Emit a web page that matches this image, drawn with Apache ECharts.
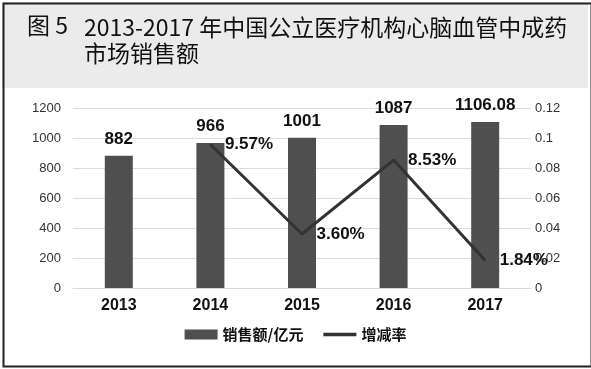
<!DOCTYPE html>
<html>
<head>
<meta charset="utf-8">
<script src="https://cdn.jsdelivr.net/npm/echarts@6/dist/echarts.min.js"></script>
<style>
  html, body { margin: 0; padding: 0; background: #fff; }
  #chart { width: 591px; height: 369px; }
</style>
</head>
<body>
<div id="chart"></div>
<script>
// 数据
const years = ['2013', '2014', '2015', '2016', '2017']
const sales = [882, 966, 1001, 1087, 1106.08]
const rates = [null, 0.0957, 0.036, 0.0853, 0.0184]
const leftTicks = [0, 1200, 200]
const rightTicks = [0, 0.12, 0.02]

const cjk = '"Noto Sans CJK SC", "Noto Sans", sans-serif'
const num = 'Arial, "Liberation Sans", sans-serif'

const chart = echarts.init(document.getElementById('chart'))

chart.setOption({
  backgroundColor: '#fff',
  animation: false,
  graphic: [
    // 标题灰色底
    { type: 'rect', left: 2, top: 2, shape: { width: 586, height: 86 }, style: { fill: '#ebebeb' }, z: -10 },
    // 外框
    { type: 'rect', left: 1, top: 1, shape: { width: 588, height: 363 }, style: { fill: 'none', stroke: '#222', lineWidth: 2 }, z: 10 },
  ],
  title: [
    {
      text: '图 5',
      left: 22,
      top: 9,
      textStyle: { fontFamily: cjk, fontSize: 23, fontWeight: 'normal', color: '#111' },
    },
    {
      text: '2013-2017 年中国公立医疗机构心脑血管中成药\n市场销售额',
      left: 79,
      top: 9,
      textStyle: { fontFamily: cjk, fontSize: 23, fontWeight: 'normal', color: '#111', lineHeight: 26 },
    },
  ],
  legend: {
    bottom: 22,
    left: 'center',
    itemWidth: 33,
    itemHeight: 10,
    itemGap: 20,
    data: [
      { name: '销售额/亿元', icon: 'rect' },
      { name: '增减率', icon: 'path://M0,0 L10,0 L10,1 L0,1 Z' },
    ],
    textStyle: { fontFamily: cjk, fontSize: 15, fontWeight: 'bold', color: '#111' },
  },
  grid: { left: 73, right: 60, top: 108, bottom: 81 },
  xAxis: {
    type: 'category',
    data: years,
    axisLine: { lineStyle: { color: '#d9d9d9' } },
    axisTick: { show: false },
    axisLabel: { fontFamily: num, fontSize: 16, fontWeight: 'bold', color: '#111', margin: 10 },
  },
  yAxis: [
    {
      type: 'value',
      min: leftTicks[0],
      max: leftTicks[1],
      interval: leftTicks[2],
      axisLine: { show: false },
      axisTick: { show: false },
      axisLabel: { fontFamily: num, fontSize: 13, color: '#333', margin: 12, formatter: (v) => String(v) },
      splitLine: { lineStyle: { color: '#dcdcdc' } },
    },
    {
      type: 'value',
      min: rightTicks[0],
      max: rightTicks[1],
      interval: rightTicks[2],
      axisLine: { show: false },
      axisTick: { show: false },
      axisLabel: { fontFamily: num, fontSize: 13, color: '#333', margin: 4, formatter: (v) => String(+v.toFixed(2)) },
      splitLine: { show: false },
    },
  ],
  series: [
    {
      name: '销售额/亿元',
      type: 'bar',
      data: sales,
      barWidth: 28,
      itemStyle: { color: '#4f4f4f' },
      label: {
        show: true,
        position: 'top',
        distance: 8,
        fontFamily: num,
        fontSize: 17,
        fontWeight: 'bold',
        color: '#111',
      },
    },
    {
      name: '增减率',
      type: 'line',
      yAxisIndex: 1,
      data: rates,
      symbol: 'circle',
      symbolSize: 1,
      showSymbol: true,
      lineStyle: { color: '#333', width: 3 },
      itemStyle: { color: '#333' },
      label: {
        show: true,
        position: 'right',
        distance: 14,
        fontFamily: num,
        fontSize: 17,
        fontWeight: 'bold',
        color: '#111',
        formatter: (p) => (p.value * 100).toFixed(2) + '%',
      },
      z: 5,
    },
  ],
})
</script>
</body>
</html>
